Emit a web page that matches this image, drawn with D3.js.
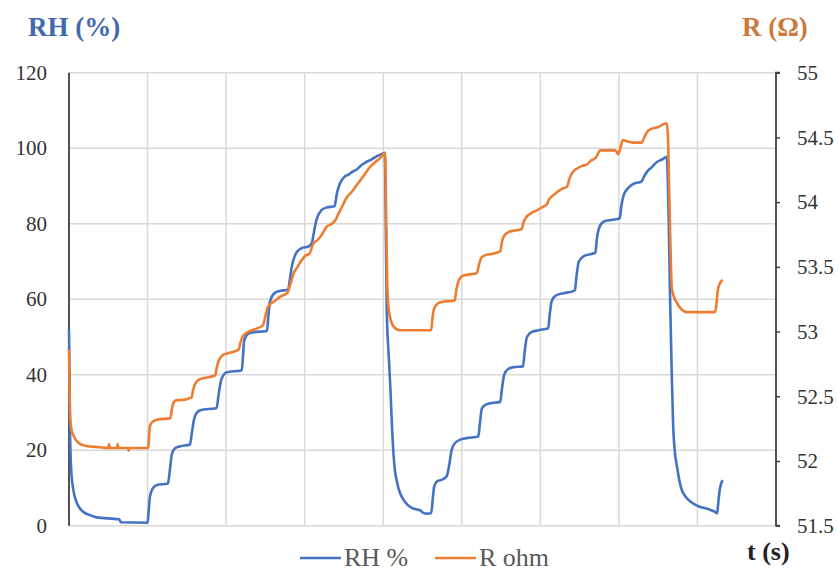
<!DOCTYPE html>
<html>
<head>
<meta charset="utf-8">
<title>RH and R vs time</title>
<script src="https://d3js.org/d3.v7.min.js"></script>
<style>
	body { margin: 0; background: #fff; }
</style>
</head>
<body>
<script>

//---- DATA ----//

	// relative humidity trace (time in s, RH in %)
	var rhTime  = [0, 0.6, 1.5, 3, 5.5, 10, 18, 27, 35, 64, 66, 100,
	               101.5, 103, 107, 112, 126, 128, 131, 135, 141, 154, 156, 159, 163, 167, 188, 190, 193, 197, 200, 220,
	               221.5, 223, 228, 234, 252, 254, 256, 261, 268, 279, 281, 283.5, 290, 296, 305, 309, 312, 315, 321, 328, 338,
	               341, 345, 351, 356, 361, 366, 372, 378, 385, 392, 400, 402,
	               403.5, 404.5, 407, 409, 411, 413, 415, 417, 420, 424, 429, 434, 440, 447, 451, 455, 461,
	               463, 465, 469, 476, 481, 484, 487, 491, 498, 506, 521, 523, 525.5, 530, 538, 549, 551, 554, 559, 566, 578,
	               580, 583, 588, 598, 610, 612, 614.5, 620, 630, 640, 644, 646, 649, 656, 665, 670, 672, 675, 681, 690, 701,
	               703, 706, 712, 718, 729, 732, 736, 742, 748, 755, 761,
	               763, 765, 767, 769, 771, 774, 777, 780, 785, 791, 797, 803, 810, 816, 822, 825, 826.5, 828, 832];
	var rhValue = [52, 40, 23, 14, 9.5, 6, 3.7, 2.8, 2.2, 1.7, 0.9, 0.8,
	               4, 7.7, 10, 10.8, 11.2, 14, 19, 20.5, 21, 21.5, 24, 28, 30, 30.6, 31.2, 34, 38, 40, 40.6, 41.2,
	               45, 49, 50.8, 51.2, 51.6, 56, 59.5, 61.5, 62.2, 62.5, 65, 68.5, 72.5, 73.5, 74, 74.8, 78, 81, 83.5, 84.3, 84.6,
	               88, 90.7, 92.5, 93, 93.8, 94.3, 95.5, 96.3, 97, 97.9, 98.6, 98.8,
	               75, 57, 45, 37, 27, 19.2, 14.5, 12.1, 9.5, 7.5, 6, 5, 4.4, 4.1, 3.4, 3.2, 3.3,
	               7, 10.5, 11.8, 12.3, 13.2, 16, 20, 21.8, 22.8, 23.2, 23.6, 27, 31, 32, 32.5, 32.8, 36, 40, 41.5, 42, 42.2,
	               46, 50, 51.2, 51.8, 52.3, 56, 59.5, 61, 61.6, 62, 62.4, 66, 70, 71.5, 72, 72.3, 76, 79, 80.6, 81, 81.4,
	               84.5, 87.5, 89.5, 90.5, 91.2, 92.5, 93.8, 95, 96.3, 97, 97.7,
	               85, 62, 43, 27, 20, 15.6, 12, 9.5, 7.7, 6.4, 5.6, 5, 4.6, 4.2, 3.7, 3.3, 6, 9, 12.1];

	// resistance trace (time in s, R in ohm)
	var rTime  = [0, 0.4, 1.3, 3, 5.5, 12, 22, 40, 50, 51, 52, 61, 62, 63, 75, 76, 77, 101,
	              102, 103.5, 108, 113, 129, 131, 133, 137, 141, 156, 158, 161, 166, 171, 186, 188, 191, 196, 201, 216,
	              218, 221, 226, 233, 247, 250, 253, 258, 263, 269, 276, 279, 282, 286, 291, 296, 302, 306, 311, 317, 322, 328,
	              334, 339, 343, 348, 354, 360, 366, 371, 377, 383, 390, 396, 402,
	              403, 404, 405, 406.5, 409, 413, 421, 461,
	              463, 465, 470, 476, 491, 493, 496, 501, 508, 519, 522, 525, 530, 538, 549, 551, 554, 560, 567, 576,
	              579, 583, 590, 597, 602, 608, 611, 614, 620, 627, 634, 637, 641, 647, 653, 659, 664, 670, 673, 676, 685, 695,
	              697, 699, 702, 705, 710, 718, 729, 733, 737, 743, 750, 756, 761,
	              762.5, 764, 765.5, 767.3, 770, 774, 780, 786, 822, 824, 825.5, 827, 832];
	var rValue = [52.86, 52.7, 52.35, 52.25, 52.2, 52.14, 52.116, 52.106, 52.1, 52.13, 52.1, 52.1, 52.13, 52.1, 52.1, 52.08, 52.1, 52.1,
	              52.2, 52.28, 52.31, 52.32, 52.33, 52.4, 52.45, 52.47, 52.47, 52.49, 52.55, 52.6, 52.63, 52.64, 52.66, 52.72, 52.78, 52.82, 52.83, 52.86,
	              52.91, 52.96, 52.99, 53.01, 53.05, 53.12, 53.19, 53.22, 53.24, 53.27, 53.29, 53.31, 53.37, 53.45, 53.5, 53.55, 53.59, 53.6, 53.68, 53.71, 53.75, 53.81,
	              53.83, 53.86, 53.91, 53.97, 54.04, 54.08, 54.13, 54.17, 54.22, 54.27, 54.31, 54.34, 54.38,
	              54.2, 53.8, 53.4, 53.2, 53.1, 53.04, 53.01, 53.01,
	              53.12, 53.18, 53.22, 53.23, 53.24, 53.32, 53.39, 53.43, 53.44, 53.45, 53.52, 53.57, 53.59, 53.6, 53.62, 53.69, 53.74, 53.77, 53.78, 53.79,
	              53.85, 53.89, 53.92, 53.94, 53.96, 53.98, 54.02, 54.04, 54.07, 54.1, 54.12, 54.18, 54.23, 54.26, 54.28, 54.29, 54.32, 54.34, 54.37, 54.4, 54.4, 54.4,
	              54.39, 54.37, 54.42, 54.48, 54.47, 54.46, 54.46, 54.51, 54.55, 54.57, 54.58, 54.6, 54.61,
	              54.5, 54.1, 53.7, 53.34, 53.27, 53.22, 53.17, 53.15, 53.15, 53.2, 53.3, 53.35, 53.4];

	var rhTicks = [0, 20, 40, 60, 80, 100, 120];
	var rTicks = [51.5, 52, 52.5, 53, 53.5, 54, 54.5, 55];
	var timeGrid = [100, 200, 300, 400, 500, 600, 700, 800];

	var legendNames = ["RH %", "R ohm"];
	var colors = ["#4472c4", "#ed7d31"];

//---- CHART ----//

	var serif = "'Liberation Serif', 'DejaVu Serif', 'Noto Serif', serif";

	var svg = d3.select("body").append("svg")
				.attr("width", 838)
				.attr("height", 572)
				.attr("font-family", serif);

	var x = d3.scaleLinear().domain([0, 900]).range([69, 776]);
	var yL = d3.scaleLinear().domain([0, 120]).range([525.7, 72.7]);
	var yR = d3.scaleLinear().domain([51.5, 55]).range([525.7, 72.7]);

	// gridlines
	svg.append("g").selectAll("line")
		.data(rhTicks)
		.enter().append("line")
			.attr("x1", x(0)).attr("x2", x(900))
			.attr("y1", function(d) { return yL(d); })
			.attr("y2", function(d) { return yL(d); })
			.attr("stroke", "#d9d9d9").attr("stroke-width", 1.5);
	svg.append("g").selectAll("line")
		.data(timeGrid)
		.enter().append("line")
			.attr("x1", function(d) { return x(d); })
			.attr("x2", function(d) { return x(d); })
			.attr("y1", yL(0)).attr("y2", yL(120))
			.attr("stroke", "#d9d9d9").attr("stroke-width", 1.5);

	// axes
	var left = svg.append("g")
		.attr("transform", "translate(" + x(0) + ",0)")
		.call(d3.axisLeft(yL).tickValues(rhTicks).tickSize(0).tickPadding(22));
	var right = svg.append("g")
		.attr("transform", "translate(" + x(900) + ",0)")
		.call(d3.axisRight(yR).tickValues(rTicks).tickSize(4).tickPadding(17).tickFormat(function(d) { return String(d); }));
	[left, right].forEach(function(a) {
		a.attr("font-family", serif).attr("font-size", 21);
		a.select(".domain").attr("stroke", "#404040").attr("stroke-width", 1.8);
		a.selectAll(".tick line").attr("stroke", "#404040").attr("stroke-width", 1.5);
		a.selectAll(".tick text").attr("fill", "#333");
	});
	left.select(".domain").attr("d", "M0," + yL(0) + "V" + yL(120));
	right.select(".domain").attr("d", "M4," + yR(55) + "H0V" + yR(51.5) + "H4");

	// series
	var lineRH = d3.line()
		.x(function(d, i) { return x(rhTime[i]); })
		.y(function(d) { return yL(d); })
		.curve(d3.curveMonotoneX);
	var lineR = d3.line()
		.x(function(d, i) { return x(rTime[i]); })
		.y(function(d) { return yR(d); })
		.curve(d3.curveMonotoneX);

	svg.append("path").datum(rhValue)
		.attr("d", lineRH)
		.attr("fill", "none").attr("stroke", colors[0])
		.attr("stroke-width", 2.6).attr("stroke-linejoin", "round");
	svg.append("path").datum(rValue)
		.attr("d", lineR)
		.attr("fill", "none").attr("stroke", colors[1])
		.attr("stroke-width", 2.6).attr("stroke-linejoin", "round");

	// axis titles
	svg.append("text").attr("x", 28).attr("y", 36)
		.attr("font-size", 27).attr("font-weight", "bold").attr("fill", "#4169ad")
		.text("RH (%)");
	svg.append("text").attr("x", 742).attr("y", 36)
		.attr("font-size", 27).attr("font-weight", "bold").attr("fill", "#c97a3c")
		.text("R (Ω)");
	svg.append("text").attr("x", 747).attr("y", 560)
		.attr("font-size", 26).attr("font-weight", "bold").attr("fill", "#222")
		.text("t (s)");

	// legend
	var legend = svg.append("g").selectAll("g")
		.data(legendNames)
		.enter().append("g")
			.attr("transform", function(d, i) { return "translate(" + (300 + i * 135) + ",558)"; });
	legend.append("line")
		.attr("x1", 0).attr("x2", 41).attr("y1", 0).attr("y2", 0)
		.attr("stroke", function(d, i) { return colors[i]; })
		.attr("stroke-width", 2.6);
	legend.append("text")
		.attr("x", 44).attr("y", 8)
		.attr("font-size", 26).attr("fill", "#595959")
		.text(function(d) { return d; });

</script>
</body>
</html>
